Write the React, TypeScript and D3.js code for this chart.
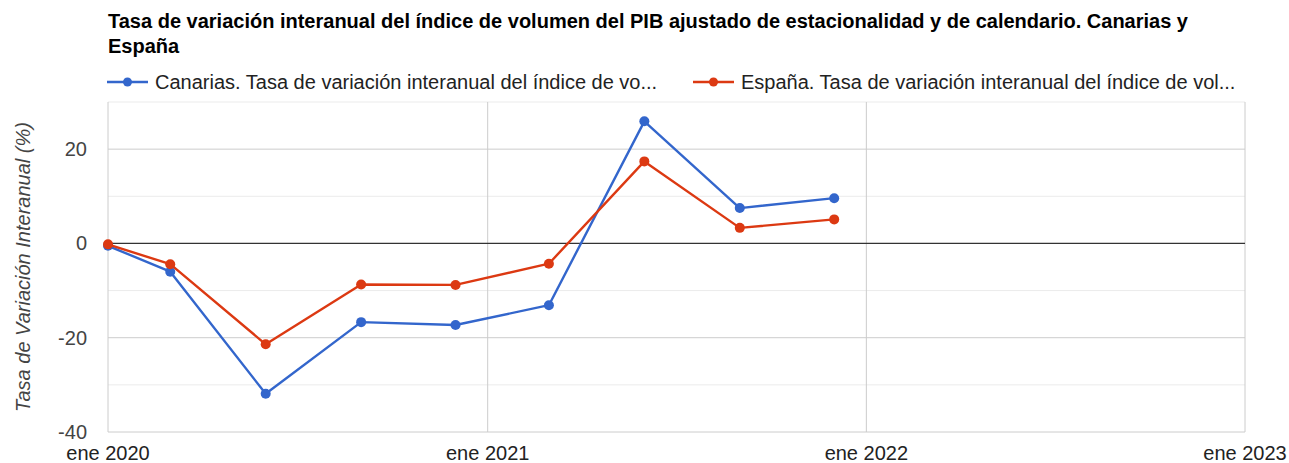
import React from "react";
import * as d3 from "d3";

const dates = ["2020-01-01", "2020-03-01", "2020-06-01", "2020-09-01", "2020-12-01", "2021-03-01", "2021-06-01", "2021-09-01", "2021-12-01"];
const canarias = [-0.5, -6.0, -31.9, -16.7, -17.3, -13.1, 25.9, 7.5, 9.6];
const espana = [-0.2, -4.4, -21.4, -8.7, -8.8, -4.3, 17.4, 3.3, 5.1];
const yTicks = [-40, -20, 0, 20];
const yMinor = [-30, -10, 10, 30];
const xTickDates = ["2020-01-01", "2021-01-01", "2022-01-01", "2023-01-01"];
const xTickLabels = ["ene 2020", "ene 2021", "ene 2022", "ene 2023"];
const titleLines = [
  "Tasa de variación interanual del índice de volumen del PIB ajustado de estacionalidad y de calendario. Canarias y",
  "España",
];
const seriesNames = [
  "Canarias. Tasa de variación interanual del índice de vo...",
  "España. Tasa de variación interanual del índice de vol...",
];
const yTitle = "Tasa de Variación Interanual (%)";
const colors = ["#3366cc", "#dc3912"];

const W = 1289, H = 463;
const left = 108, right = 1245, top = 102, bottom = 432;
const font = "Arial, 'Liberation Sans', sans-serif";

export default function App() {
  const parse = d3.timeParse("%Y-%m-%d");
  const x = d3.scaleTime().domain([parse("2020-01-01")!, parse("2023-01-01")!]).range([left, right]);
  const y = d3.scaleLinear().domain([-40, 30]).range([bottom, top]);
  const ds = dates.map((d) => parse(d)!);
  const line = d3.line<number>().x((_, i) => x(ds[i])).y((v) => y(v));
  const series = [canarias, espana];
  return (
    <svg width={W} height={H} style={{ position: "absolute", left: 0, top: 0, background: "#fff" }} fontFamily={font}>
      {titleLines.map((t, i) => (
        <text key={i} x={108} y={28 + i * 25} fontSize={20} fontWeight="bold" fill="#000">{t}</text>
      ))}
      {seriesNames.map((n, i) => {
        const lx = i === 0 ? 107 : 693;
        return (
          <g key={i}>
            <line x1={lx} x2={lx + 41} y1={82} y2={82} stroke={colors[i]} strokeWidth={2.4} />
            <circle cx={lx + 20.5} cy={82} r={4.5} fill={colors[i]} />
            <text x={lx + 48} y={89} fontSize={20} fill="#222">{n}</text>
          </g>
        );
      })}
      {yMinor.map((t) => (
        <line key={t} x1={left} x2={right} y1={y(t)} y2={y(t)} stroke="#ebebeb" strokeWidth={1} />
      ))}
      {yTicks.filter((t) => t !== 0).map((t) => (
        <line key={t} x1={left} x2={right} y1={y(t)} y2={y(t)} stroke="#cccccc" strokeWidth={1} />
      ))}
      {xTickDates.map((d) => (
        <line key={d} x1={x(parse(d)!)} x2={x(parse(d)!)} y1={top} y2={bottom} stroke="#cccccc" strokeWidth={1} />
      ))}
      <line x1={left} x2={right} y1={y(0)} y2={y(0)} stroke="#333" strokeWidth={1.2} />
      {yTicks.map((t) => (
        <text key={t} x={87} y={y(t) + 7} fontSize={20} textAnchor="end" fill="#444">{t}</text>
      ))}
      {xTickDates.map((d, i) => (
        <text key={d} x={x(parse(d)!)} y={460} fontSize={20} textAnchor="middle" fill="#222">{xTickLabels[i]}</text>
      ))}
      <text transform={`translate(30, ${(top + bottom) / 2}) rotate(-90)`} fontSize={20} fontStyle="italic" textAnchor="middle" fill="#444">{yTitle}</text>
      {series.map((s, i) => (
        <g key={i}>
          <path d={line(s)!} fill="none" stroke={colors[i]} strokeWidth={2.4} strokeLinejoin="round" />
          {s.map((v, j) => (
            <circle key={j} cx={x(ds[j])} cy={y(v)} r={5} fill={colors[i]} />
          ))}
        </g>
      ))}
    </svg>
  );
}
